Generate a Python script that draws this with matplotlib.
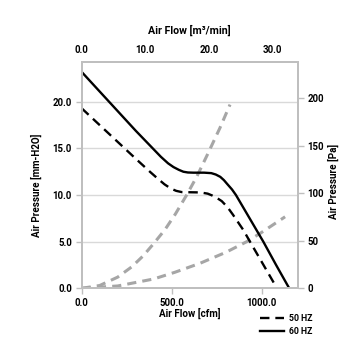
import matplotlib
matplotlib.use("Agg")
import matplotlib.pyplot as plt
from matplotlib.lines import Line2D

plt.rcParams['font.family'] = ['Roboto', 'DejaVu Sans']
plt.rcParams['font.weight'] = 'bold'

# 60 Hz fan curve (cfm, mm-H2O)
hz60_cfm = [0, 100, 200, 300, 400, 440, 480, 510, 540, 565, 590, 620, 680, 720, 745, 770, 790, 810, 835, 857, 930, 1009, 1080, 1153]
hz60_p = [23.2, 21.1, 19.0, 16.9, 14.9, 14.1, 13.4, 13.0, 12.7, 12.5, 12.42, 12.4, 12.4, 12.35, 12.2, 11.95, 11.6, 11.15, 10.6, 10.0, 7.6, 5.0, 2.5, 0.0]

# 50 Hz fan curve (cfm, mm-H2O)
hz50_cfm = [0, 100, 200, 300, 379, 420, 460, 495, 525, 555, 600, 660, 700, 725, 750, 778, 810, 840, 898, 935, 1010, 1085]
hz50_p = [19.3, 17.5, 15.7, 13.9, 12.5, 11.8, 11.15, 10.7, 10.45, 10.32, 10.3, 10.28, 10.15, 9.95, 9.7, 9.35, 8.7, 7.9, 6.25, 5.0, 2.5, 0.0]

# System resistance curves (cfm, mm-H2O)
sys_steep_cfm = [0, 100, 200, 278, 340, 398, 463, 520, 583, 640, 700, 768, 824]
sys_steep_p = [0.0, 0.3, 1.2, 2.3, 3.45, 4.75, 6.3, 7.95, 10.0, 12.0, 14.4, 17.2, 19.7]
sys_flat_cfm = [0, 200, 400, 518, 657, 800, 917, 1000, 1130]
sys_flat_p = [0.0, 0.25, 1.0, 1.72, 2.68, 3.85, 5.0, 6.0, 7.67]

left_ticks = [0, 5, 10, 15, 20]
right_ticks = [0, 50, 100, 150, 200]
bottom_ticks = [0, 500, 1000]
top_ticks = [0, 10, 20, 30]

CFM_TO_M3MIN = 0.0283168
MM_TO_PA = 9.80665

W = H = 355
fig = plt.figure(figsize=(3.55, 3.55), dpi=100)
ax = fig.add_axes([81.7 / W, 1 - 288.3 / H, 216 / W, 226.6 / H])

spine_c = '#BFBFBF'
grid_c = '#D9D9D9'
fs = 6.9
lfs = 7.1

ax.plot(sys_steep_cfm, sys_steep_p, color='#A6A6A6', lw=2.2, dashes=(3, 2))
ax.plot(sys_flat_cfm, sys_flat_p, color='#A6A6A6', lw=2.2, dashes=(3, 2))
ax.plot(hz50_cfm, hz50_p, color='black', lw=1.7, dashes=(4, 2.5))
ax.plot(hz60_cfm, hz60_p, color='black', lw=1.7)

XMAX = 1200
ax.set_xlim(0, XMAX)
ax.set_ylim(0, 24.3)
ax.set_yticks(left_ticks)
ax.set_yticklabels([f"{v:.1f}" for v in left_ticks])
ax.set_xticks(bottom_ticks)
ax.set_xticklabels([f"{v:.1f}" for v in bottom_ticks])
ax.grid(axis='y', color=grid_c, lw=1.0)
ax.set_axisbelow(True)
for s in ax.spines.values():
    s.set_color(spine_c)
    s.set_linewidth(1.3)
ax.tick_params(axis='both', labelsize=fs, length=4, width=1, color=spine_c, pad=3)
for lab in ax.get_xticklabels() + ax.get_yticklabels():
    lab.set_fontweight('bold')
ax.set_xlabel("Air Flow [cfm]", fontsize=lfs, fontweight='bold', labelpad=0)
ax.set_ylabel("Air Pressure [mm-H2O]", fontsize=lfs, fontweight='bold')
ax.yaxis.set_label_coords(-0.186, 0.454)

ax2 = ax.twinx()
ax2.set_ylim(0, 24.3 * MM_TO_PA)
ax2.set_yticks(right_ticks)
ax2.set_yticklabels([str(v) for v in right_ticks], fontweight='bold')
ax2.tick_params(axis='y', labelsize=fs, length=4, width=1, color=spine_c, pad=3)
for s in ax2.spines.values():
    s.set_color(spine_c)
    s.set_linewidth(1.3)
ax2.set_ylabel("Air Pressure [Pa]", fontsize=lfs, fontweight='bold')
ax2.yaxis.set_label_coords(1.14, 0.47)

top = ax.twiny()
top.set_xlim(0, XMAX * CFM_TO_M3MIN)
top.set_xticks(top_ticks)
top.set_xticklabels([f"{v:.1f}" for v in top_ticks], fontweight='bold')
top.tick_params(axis='x', labelsize=fs, length=0, pad=4.5)
for s in top.spines.values():
    s.set_color(spine_c)
    s.set_linewidth(1.3)
top.set_xlabel("Air Flow [m\u00b3/min]", fontsize=lfs + 0.6, fontweight='bold', labelpad=8.5)

handles = [Line2D([], [], color='black', lw=1.7, dashes=(4, 2.5)),
           Line2D([], [], color='black', lw=1.7)]
fig.legend(handles, ["50 HZ", "60 HZ"], loc='upper left',
           bbox_to_anchor=(252 / W, 1 - 306 / H), frameon=False,
           prop={'size': fs - 0.6, 'weight': 'bold'},
           handlelength=2.7, handletextpad=0.6, labelspacing=0.45)

fig.savefig("out.png", dpi=100)
